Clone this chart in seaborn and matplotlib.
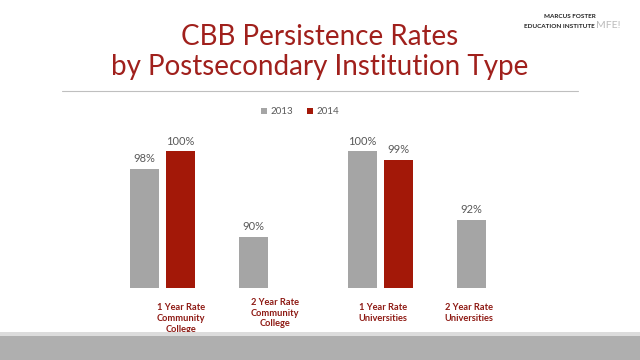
import numpy as np
import pandas as pd
import matplotlib
matplotlib.use("Agg")
import matplotlib.pyplot as plt
import matplotlib.transforms as mtransforms
import seaborn as sns

categories = ["1 Year Rate\nCommunity\nCollege", "2 Year Rate\nCommunity\nCollege",
              "1 Year Rate\nUniversities", "2 Year Rate\nUniversities"]
years = ["2013", "2014"]
values_2013 = [98, 90, 100, 92]
values_2014 = [100, np.nan, 99, np.nan]

sns.set_theme(style="white")
plt.rcParams['font.family'] = ['Lato', 'DejaVu Sans']

df = pd.DataFrame({
    "category": list(range(4)) * 2,
    "year": [years[0]] * 4 + [years[1]] * 4,
    "value": values_2013 + values_2014,
})

fig = plt.figure(figsize=(6.4, 3.6), dpi=100)
fig.patch.set_facecolor("white")
ax = fig.add_axes([108 / 640, 72 / 360, 436 / 640, 163 / 360])

sns.barplot(data=df, x="category", y="value", hue="year", hue_order=years,
            palette={"2013": "#A5A5A5", "2014": "#A31808"}, width=0.66, gap=0.19,
            ax=ax, saturation=1, errorbar=None, edgecolor="none")
ax.set_xlim(-0.5, 3.5)
ax.set_ylim(84, 103.1)
for s in ax.spines.values():
    s.set_visible(False)
ax.set_xticks([])
ax.set_yticks([])
ax.set_xlabel("")
ax.set_ylabel("")

for cont in ax.containers:
    ax.bar_label(cont, fmt="%.0f%%", padding=3.5, color="#595959", fontsize=8)

sns.move_legend(ax, loc="center", bbox_to_anchor=(300 / 640, 1 - 112 / 360),
                bbox_transform=fig.transFigure, ncol=2, frameon=False, title=None,
                fontsize=7, handlelength=0.6, handleheight=0.6, handletextpad=0.4,
                columnspacing=1.4)
for t in ax.get_legend().get_texts():
    t.set_color("#595959")

# category labels
label_offsets = [0.17, 0.03, 0.02, -0.19]
label_tops = [303, 298, 303, 303]
trans = mtransforms.blended_transform_factory(ax.transData, fig.transFigure)
for i, (lab, off, top) in enumerate(zip(categories, label_offsets, label_tops)):
    ax.text(i + off, 1 - top / 360, lab, transform=trans, ha="center", va="top",
            fontsize=6.7, fontweight="bold", color="#8E1A14", linespacing=1.25)

# title
fig.text(0.5, 1 - 37 / 360, "CBB Persistence Rates", ha="center", va="center",
         fontsize=20, color="#A0201C")
fig.text(0.5, 1 - 67 / 360, "by Postsecondary Institution Type", ha="center",
         va="center", fontsize=20, color="#A0201C")
fig.add_artist(plt.Line2D([62 / 640, 578 / 640], [1 - 91 / 360] * 2,
                          transform=fig.transFigure, color="#BFBFBF", lw=0.8))

# logo
fig.text(596 / 640, 1 - 17 / 360, "MARCUS FOSTER", ha="right", va="center",
         fontsize=4.6, fontweight="bold", color="#222222")
fig.text(595 / 640, 1 - 26 / 360, "EDUCATION INSTITUTE", ha="right", va="center",
         fontsize=4.6, fontweight="bold", color="#222222")
fig.text(596 / 640, 1 - 25 / 360, "MFE!", ha="left", va="center",
         fontsize=7.5, color="#BBBBBB")

# bottom band
fig.add_artist(plt.Rectangle((0, 0), 1, 28 / 360, transform=fig.transFigure,
                             color="#DCDCDC", lw=0))
fig.add_artist(plt.Rectangle((0, 0), 1, 24 / 360, transform=fig.transFigure,
                             color="#AFAFAF", lw=0))

fig.savefig("out.png", dpi=100)
